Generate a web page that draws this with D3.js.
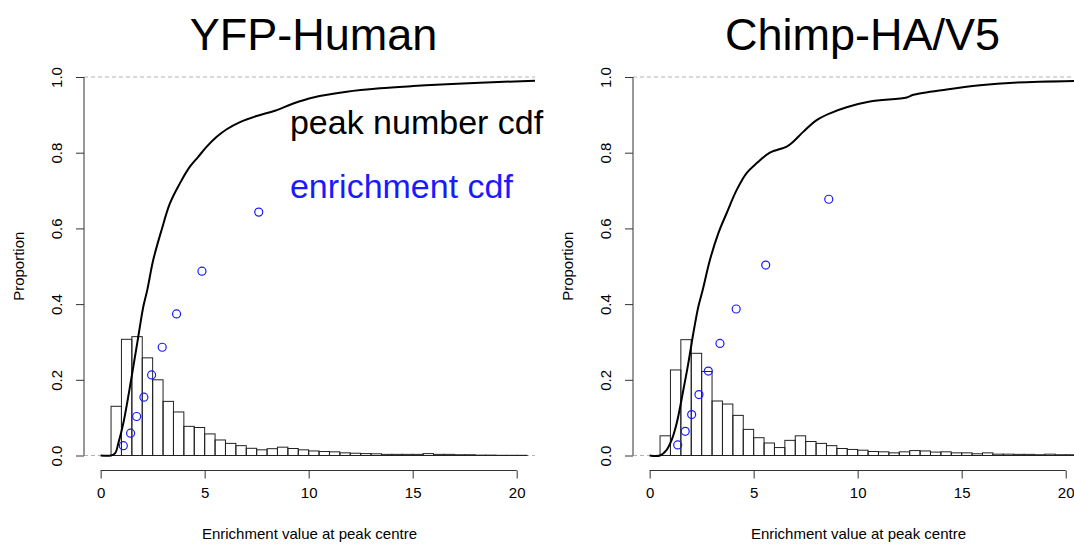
<!DOCTYPE html>
<html>
<head>
<meta charset="utf-8">
<script src="https://d3js.org/d3.v7.min.js"></script>
<style>
  body { margin: 0; background: #fff; }
  text { font-family: "Liberation Sans", Arial, Helvetica, sans-serif; }
</style>
</head>
<body>
<script>
// ---- data ----
var panelTitles = ["YFP-Human", "Chimp-HA/V5"];

// histogram bins: left edges, width 0.5
var binStarts = [0.5, 1, 1.5, 2, 2.5, 3, 3.5, 4, 4.5, 5, 5.5, 6, 6.5, 7, 7.5, 8, 8.5, 9, 9.5, 10,
                 10.5, 11, 11.5, 12, 12.5, 13, 13.5, 14, 14.5, 15, 15.5, 16, 16.5, 17, 17.5, 18, 18.5, 19, 19.5, 20];
var binWidth = 0.5;

var humanBars = [0.130, 0.307, 0.314, 0.258, 0.200, 0.143, 0.115, 0.077, 0.074, 0.057,
                 0.041, 0.032, 0.026, 0.019, 0.015, 0.018, 0.022, 0.0185, 0.015, 0.012,
                 0.0105, 0.0097, 0.007, 0.006, 0.005, 0.0045, 0.003, 0.003, 0.003, 0.003,
                 0.005, 0.003, 0.003, 0.002, 0.002, 0.001, 0.001, 0.0005, 0.0005, 0.0005];
var chimpBars = [0.052, 0.226, 0.306, 0.270, 0.222, 0.144, 0.136, 0.106, 0.069, 0.047,
                 0.033, 0.021, 0.040, 0.052, 0.037, 0.032, 0.026, 0.0185, 0.016, 0.014,
                 0.0105, 0.0097, 0.007, 0.0097, 0.013, 0.012, 0.009, 0.0097, 0.007, 0.007,
                 0.0045, 0.007, 0.0035, 0.0035, 0.003, 0.003, 0.002, 0.0035, 0.002, 0.002];

// peak number cdf
var humanCdfX = [0, 0.5, 0.7, 0.85, 1.09, 1.49, 1.81, 2.05, 2.24, 2.53, 2.93, 3.33, 3.81, 4.29, 4.69,
                 5.10, 5.58, 6.06, 6.70, 7.5, 8.38, 9.26, 10.22, 11.83, 13.43, 15.03, 16.63, 18.24, 20.9];
var humanCdfY = [0, 0, 0.006, 0.032, 0.085, 0.208, 0.314, 0.393, 0.437, 0.517, 0.596, 0.666, 0.719, 0.763, 0.789,
                 0.816, 0.842, 0.862, 0.881, 0.897, 0.911, 0.930, 0.946, 0.961, 0.970, 0.976, 0.981, 0.985, 0.990];
var chimpCdfX = [0, 0.5, 0.82, 1.06, 1.30, 1.62, 1.86, 2.10, 2.34, 2.55, 2.90, 3.30, 3.70, 4.18, 4.66,
                 5.14, 5.78, 6.59, 6.90, 7.38, 8.03, 8.67, 9.47, 10.59, 12.36, 12.68, 14.28, 15.88, 17.48, 20.9];
var chimpCdfY = [0, 0, 0.015, 0.041, 0.085, 0.173, 0.244, 0.323, 0.393, 0.437, 0.517, 0.587, 0.640, 0.701, 0.746,
                 0.772, 0.800, 0.816, 0.829, 0.855, 0.886, 0.904, 0.920, 0.935, 0.946, 0.953, 0.967, 0.978, 0.985, 0.990];

// enrichment cdf points
var humanEnrichX = [1.09, 1.44, 1.73, 2.08, 2.45, 2.96, 3.65, 4.87, 7.60];
var humanEnrichY = [0.026, 0.059, 0.103, 0.154, 0.213, 0.286, 0.374, 0.487, 0.643];
var chimpEnrichX = [1.35, 1.71, 2.02, 2.37, 2.82, 3.38, 4.16, 5.58, 8.61];
var chimpEnrichY = [0.028, 0.064, 0.108, 0.161, 0.223, 0.296, 0.387, 0.503, 0.677];

var xTicks = [0, 5, 10, 15, 20];
var yTicks = [0, 0.2, 0.4, 0.6, 0.8, 1.0];
var legendLabels = ["peak number cdf", "enrichment cdf"];

var panels = [
    { title: panelTitles[0], bars: humanBars, cdfX: humanCdfX, cdfY: humanCdfY, ex: humanEnrichX, ey: humanEnrichY, legend: true },
    { title: panelTitles[1], bars: chimpBars, cdfX: chimpCdfX, cdfY: chimpCdfY, ex: chimpEnrichX, ey: chimpEnrichY, legend: false }
];

// ---- drawing ----
var W = 1074, H = 545, panelShift = 549;
var svg = d3.select("body").append("svg").attr("width", W).attr("height", H);

panels.forEach(function (p, k) {
    var left = 84 + k * panelShift, right = 535 + k * panelShift;
    var x = d3.scaleLinear().domain([-0.8, 20.88]).range([left, right]);
    var y = d3.scaleLinear().domain([0, 1]).range([455.5, 77]);
    var g = svg.append("g");

    var clipId = "clip" + k;
    svg.append("clipPath").attr("id", clipId)
        .append("rect").attr("x", left).attr("y", 60).attr("width", right - left).attr("height", 410);

    var plot = g.append("g").attr("clip-path", "url(#" + clipId + ")");

    // dashed reference lines at 0 and 1
    plot.selectAll("line.ref").data([0, 1]).enter().append("line")
        .attr("class", "ref")
        .attr("x1", left).attr("x2", right)
        .attr("y1", function (d) { return y(d); }).attr("y2", function (d) { return y(d); })
        .attr("stroke", "#b3b3b3").attr("stroke-dasharray", "4,3").attr("stroke-width", 1);

    // histogram
    plot.selectAll("rect.bar").data(p.bars).enter().append("rect")
        .attr("class", "bar")
        .attr("x", function (d, i) { return x(binStarts[i]); })
        .attr("width", function (d, i) { return x(binStarts[i] + binWidth) - x(binStarts[i]); })
        .attr("y", function (d) { return y(d); })
        .attr("height", function (d) { return y(0) - y(d); })
        .attr("fill", "none").attr("stroke", "#222").attr("stroke-width", 1);

    // peak number cdf
    var line = d3.line()
        .x(function (d) { return x(d[0]); })
        .y(function (d) { return y(d[1]); })
        .curve(d3.curveCatmullRom.alpha(0.5));
    plot.append("path")
        .datum(p.cdfX.map(function (v, i) { return [v, p.cdfY[i]]; }))
        .attr("d", line)
        .attr("fill", "none").attr("stroke", "#000").attr("stroke-width", 2);

    // enrichment cdf points
    plot.selectAll("circle").data(p.ex).enter().append("circle")
        .attr("cx", function (d) { return x(d); })
        .attr("cy", function (d, i) { return y(p.ey[i]); })
        .attr("r", 4)
        .attr("fill", "none").attr("stroke", "#1a1aff").attr("stroke-width", 1.2);

    // x axis
    var xAxis = g.append("g")
        .attr("transform", "translate(0,470.5)")
        .call(d3.axisBottom(x).tickValues(xTicks).tickSize(8).tickPadding(9).tickFormat(d3.format("d")));
    xAxis.select(".domain").remove();
    xAxis.append("line").attr("x1", x(0)).attr("x2", x(20)).attr("stroke", "#333");
    xAxis.selectAll(".tick line").attr("stroke", "#333");
    xAxis.selectAll(".tick text").attr("font-size", 15).attr("fill", "#000")
        .attr("font-family", "Liberation Sans, Arial, sans-serif");

    // y axis
    var yAxis = g.append("g")
        .attr("transform", "translate(" + left + ",0)")
        .call(d3.axisLeft(y).tickValues(yTicks).tickSize(8).tickFormat(d3.format(".1f")));
    yAxis.select(".domain").remove();
    yAxis.append("line").attr("y1", y(0)).attr("y2", y(1)).attr("stroke", "#333");
    yAxis.selectAll(".tick line").attr("stroke", "#333");
    yAxis.selectAll(".tick text")
        .attr("font-size", 15).attr("fill", "#000")
        .attr("font-family", "Liberation Sans, Arial, sans-serif")
        .attr("text-anchor", "middle")
        .attr("x", null).attr("dy", null)
        .attr("transform", "translate(-22,0) rotate(-90)")
        .attr("y", 0);

    // axis titles
    var mid = (left + right) / 2;
    g.append("text").attr("x", mid).attr("y", 539)
        .attr("text-anchor", "middle").attr("font-size", 15)
        .text("Enrichment value at peak centre");
    g.append("text")
        .attr("transform", "translate(" + (left - 60) + "," + y(0.5) + ") rotate(-90)")
        .attr("text-anchor", "middle").attr("font-size", 15)
        .text("Proportion");

    // title
    g.append("text").attr("x", mid + 4).attr("y", 50)
        .attr("text-anchor", "middle").attr("font-size", 45)
        .text(p.title);

    // legend text
    if (p.legend) {
        g.append("text").attr("x", x(9.1)).attr("y", y(0.849))
            .attr("font-size", 34).attr("fill", "#000").text(legendLabels[0]);
        g.append("text").attr("x", x(9.1)).attr("y", y(0.680))
            .attr("font-size", 34).attr("fill", "#1a1aff").text(legendLabels[1]);
    }
});
</script>
</body>
</html>
